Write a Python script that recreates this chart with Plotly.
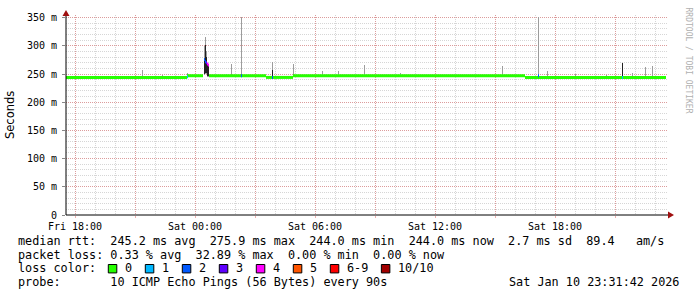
import plotly.graph_objects as go
from datetime import datetime, timedelta

# ------------------------------------------------------------------ data
# median RTT (ms) as constant segments
median_seg_start = ["2026-01-09 17:33", "2026-01-09 23:36", "2026-01-10 00:42",
                    "2026-01-10 03:33", "2026-01-10 04:54", "2026-01-10 16:30"]
median_seg_end = ["2026-01-09 23:36", "2026-01-10 00:24", "2026-01-10 03:33",
                  "2026-01-10 04:54", "2026-01-10 16:30", "2026-01-10 23:33"]
median_seg_ms = [244, 247, 247, 244, 247, 244]

# smoke: spread of the individual pings (ms)
smoke_time = ["2026-01-09 21:21", "2026-01-09 22:21", "2026-01-09 23:36",
              "2026-01-10 00:27", "2026-01-10 00:30", "2026-01-10 00:33",
              "2026-01-10 00:36", "2026-01-10 00:39",
              "2026-01-10 01:33", "2026-01-10 01:48", "2026-01-10 02:18",
              "2026-01-10 03:51", "2026-01-10 04:54", "2026-01-10 06:21",
              "2026-01-10 07:09", "2026-01-10 08:27", "2026-01-10 10:15",
              "2026-01-10 15:21", "2026-01-10 17:09", "2026-01-10 17:36",
              "2026-01-10 19:00", "2026-01-10 20:33", "2026-01-10 21:21",
              "2026-01-10 21:51", "2026-01-10 22:30", "2026-01-10 22:51"]
smoke_low = [244, 244, 244,
             248, 250, 250, 244, 244,
             247, 247, 247,
             244, 244, 247,
             247, 247, 247,
             247, 247, 244,
             244, 244, 244,
             244, 244, 244]
smoke_high = [258, 249, 251,
              300, 316, 290, 270, 268,
              250, 267, 352,
              272, 268, 255,
              255, 266, 252,
              264, 352, 256,
              250, 249, 270,
              252, 262, 265]
# dense core of the smoke (ms), None where there is none
core_low = [None, None, None,
            250, 252, 252, 246, 246,
            None, None, None,
            244, None, None,
            None, None, None,
            None, None, None,
            None, None, 244,
            None, None, None]
core_high = [None, None, None,
             277, 302, 280, 268, 266,
             None, None, None,
             258, None, None,
             None, None, None,
             None, None, None,
             None, None, 270,
             None, None, None]

# samples with packet loss: time, median (ms), lost pings out of 10
loss_time = ["2026-01-09 23:36", "2026-01-10 00:27", "2026-01-10 00:30",
             "2026-01-10 00:33", "2026-01-10 00:36", "2026-01-10 00:39",
             "2026-01-10 02:18", "2026-01-10 03:51", "2026-01-10 17:09",
             "2026-01-10 21:21"]
loss_median = [245, 276, 272, 270, 268, 266, 247, 244, 247, 244]
loss_count = [1, 2, 2, 3, 4, 4, 2, 2, 2, 1]

loss_labels = ["0", "1", "2", "3", "4", "5", "6-9", "10/10"]
loss_colors = ["#26ff00", "#00b8ff", "#0059ff", "#5e00ff", "#ff00ff",
               "#ff5500", "#ff0000", "#a10000"]

y_ticks = [0, 50, 100, 150, 200, 250, 300, 350]
y_ticktext = ["0", "50 m", "100 m", "150 m", "200 m", "250 m", "300 m", "350 m"]
x_ticks = ["2026-01-09 18:00", "2026-01-09 21:00", "2026-01-10 00:00",
           "2026-01-10 03:00", "2026-01-10 06:00", "2026-01-10 09:00",
           "2026-01-10 12:00", "2026-01-10 15:00", "2026-01-10 18:00",
           "2026-01-10 21:00"]
x_ticktext = ["Fri 18:00", "", "Sat 00:00", "", "Sat 06:00", "",
              "Sat 12:00", "", "Sat 18:00", ""]

stats_lines = [
    "median rtt:  245.2 ms avg  275.9 ms max  244.0 ms min  244.0 ms now  2.7 ms sd  89.4   am/s",
    "packet loss: 0.33 % avg  32.89 % max  0.00 % min  0.00 % now",
]
probe_line = "probe:       10 ICMP Echo Pings (56 Bytes) every 90s"
stamp = "Sat Jan 10 23:31:42 2026"

# ------------------------------------------------------------------ layout geometry
W, H = 697, 297
L, R, T, B = 66, 29, 13, 82
PW, PH = W - L - R, H - T - B
X0, X1 = "2026-01-09 17:33", "2026-01-10 23:39"
YMAX = 354.7
STEP = timedelta(minutes=3)
MONO = "DejaVu Sans Mono"


def px(x):
    return (x - L) / PW


def py(y):
    return (H - B - y) / PH


def tp(s):
    return datetime.strptime(s, "%Y-%m-%d %H:%M")


fig = go.Figure()

# smoke (light)
fig.add_trace(go.Bar(
    x=[tp(t) + STEP / 2 for t in smoke_time],
    y=[h - l for l, h in zip(smoke_low, smoke_high)],
    base=smoke_low, width=STEP.total_seconds() * 1000,
    marker=dict(color="#9c9c9c", line=dict(width=0)),
    hoverinfo="skip", showlegend=False))

# smoke core (dark)
ct = [tp(t) + STEP / 2 for t, l in zip(smoke_time, core_low) if l is not None]
cl = [l for l in core_low if l is not None]
ch = [h for h in core_high if h is not None]
fig.add_trace(go.Bar(
    x=ct, y=[h - l for l, h in zip(cl, ch)], base=cl,
    width=STEP.total_seconds() * 1000,
    marker=dict(color="#222222", line=dict(width=0)),
    hoverinfo="skip", showlegend=False))

# median line (no loss)
mx, my = [], []
for s, e, v in zip(median_seg_start, median_seg_end, median_seg_ms):
    mx += [tp(s), tp(e), None]
    my += [v, v, None]
fig.add_trace(go.Scatter(x=mx, y=my, mode="lines",
                         line=dict(color=loss_colors[0], width=3),
                         hoverinfo="skip", showlegend=False))


def loss_index(n):
    if n <= 5:
        return n
    if n < 10:
        return 6
    return 7


# median samples with loss
for t, m, n in zip(loss_time, loss_median, loss_count):
    fig.add_trace(go.Scatter(x=[tp(t), tp(t) + STEP], y=[m, m], mode="lines",
                             line=dict(color=loss_colors[loss_index(n)], width=3),
                             hoverinfo="skip", showlegend=False))

grid_major = "rgba(225,110,110,0.55)"
grid_minor = "rgba(165,165,165,0.45)"

fig.update_layout(
    width=W, height=H, margin=dict(l=L, r=R, t=T, b=B, pad=0),
    paper_bgcolor="white", plot_bgcolor="white", barmode="overlay",
    bargap=0,
    xaxis=dict(type="date", range=[X0, X1], tickmode="array",
               tickvals=x_ticks, ticktext=x_ticktext,
               showgrid=True, gridcolor=grid_major, griddash="1px,1px", gridwidth=1,
               minor=dict(dtick=3600000, tick0="2026-01-09 18:00", showgrid=True,
                          gridcolor=grid_minor, griddash="1px,1px", gridwidth=1),
               ticks="outside", ticklen=2, tickcolor=grid_major,
               showline=False, zeroline=False,
               tickfont=dict(family=MONO, size=10, color="black"), ticklabelstandoff=0),
    yaxis=dict(range=[0, YMAX], tickmode="array", tickvals=y_ticks, ticktext=y_ticktext,
               showgrid=True, gridcolor=grid_major, griddash="1px,1px", gridwidth=1,
               minor=dict(dtick=10, showgrid=True, gridcolor=grid_minor,
                          griddash="1px,1px", gridwidth=1),
               ticks="outside", ticklen=3, tickcolor="#888888",
               showline=False, zeroline=False,
               tickfont=dict(family=MONO, size=10, color="black"), ticklabelstandoff=3),
)

shapes = []
# axes with arrows
shapes.append(dict(type="line", xref="paper", yref="paper",
                   x0=px(66), x1=px(669), y0=py(215), y1=py(215),
                   line=dict(color="black", width=1)))
shapes.append(dict(type="line", xref="paper", yref="paper",
                   x0=px(66), x1=px(66), y0=py(215), y1=py(11),
                   line=dict(color="black", width=1)))
arrow = "#a01010"
shapes.append(dict(type="path", xref="paper", yref="paper",
                   path=f"M {px(668)} {py(211.5)} L {px(674)} {py(215)} L {px(668)} {py(218.5)} Z",
                   fillcolor=arrow, line=dict(color=arrow, width=0)))
shapes.append(dict(type="path", xref="paper", yref="paper",
                   path=f"M {px(62.5)} {py(14)} L {px(66)} {py(8)} L {px(69.5)} {py(14)} Z",
                   fillcolor=arrow, line=dict(color=arrow, width=0)))

annotations = []


def text(x, y, s, anchor="left", size=11.7, color="black", family=MONO, angle=0):
    annotations.append(dict(xref="paper", yref="paper", x=px(x), y=py(y),
                            text=s.replace(" ", "\u00a0"), showarrow=False,
                            xanchor=anchor, yanchor="middle", textangle=angle,
                            font=dict(family=family, size=size, color=color)))


text(10, 114, "Seconds", anchor="center", size=11.5, family="DejaVu Sans", angle=-90)
text(688, 59, "RRDTOOL / TOBI OETIKER", anchor="center", size=8, color="#b0b0b0", angle=90)

text(16, 241, stats_lines[0], size=11.8)
text(16, 255, stats_lines[1], size=11.8)
text(16, 269, "loss color:", size=11.8)
text(16, 283, probe_line, size=11.8)
text(681, 283, stamp, anchor="right", size=11.8)

CH = 7.03
bx = 108.3
for lab, col in zip(loss_labels, loss_colors):
    shapes.append(dict(type="rect", xref="paper", yref="paper",
                       x0=px(bx), x1=px(bx + 8.5), y0=py(273.5), y1=py(265),
                       fillcolor=col, line=dict(color="black", width=1)))
    text(bx + 14.8, 269, lab, size=11.8)
    bx += 37 + (len(lab) - 1) * CH

fig.update_layout(shapes=shapes, annotations=annotations)
fig.write_html("out.html")
